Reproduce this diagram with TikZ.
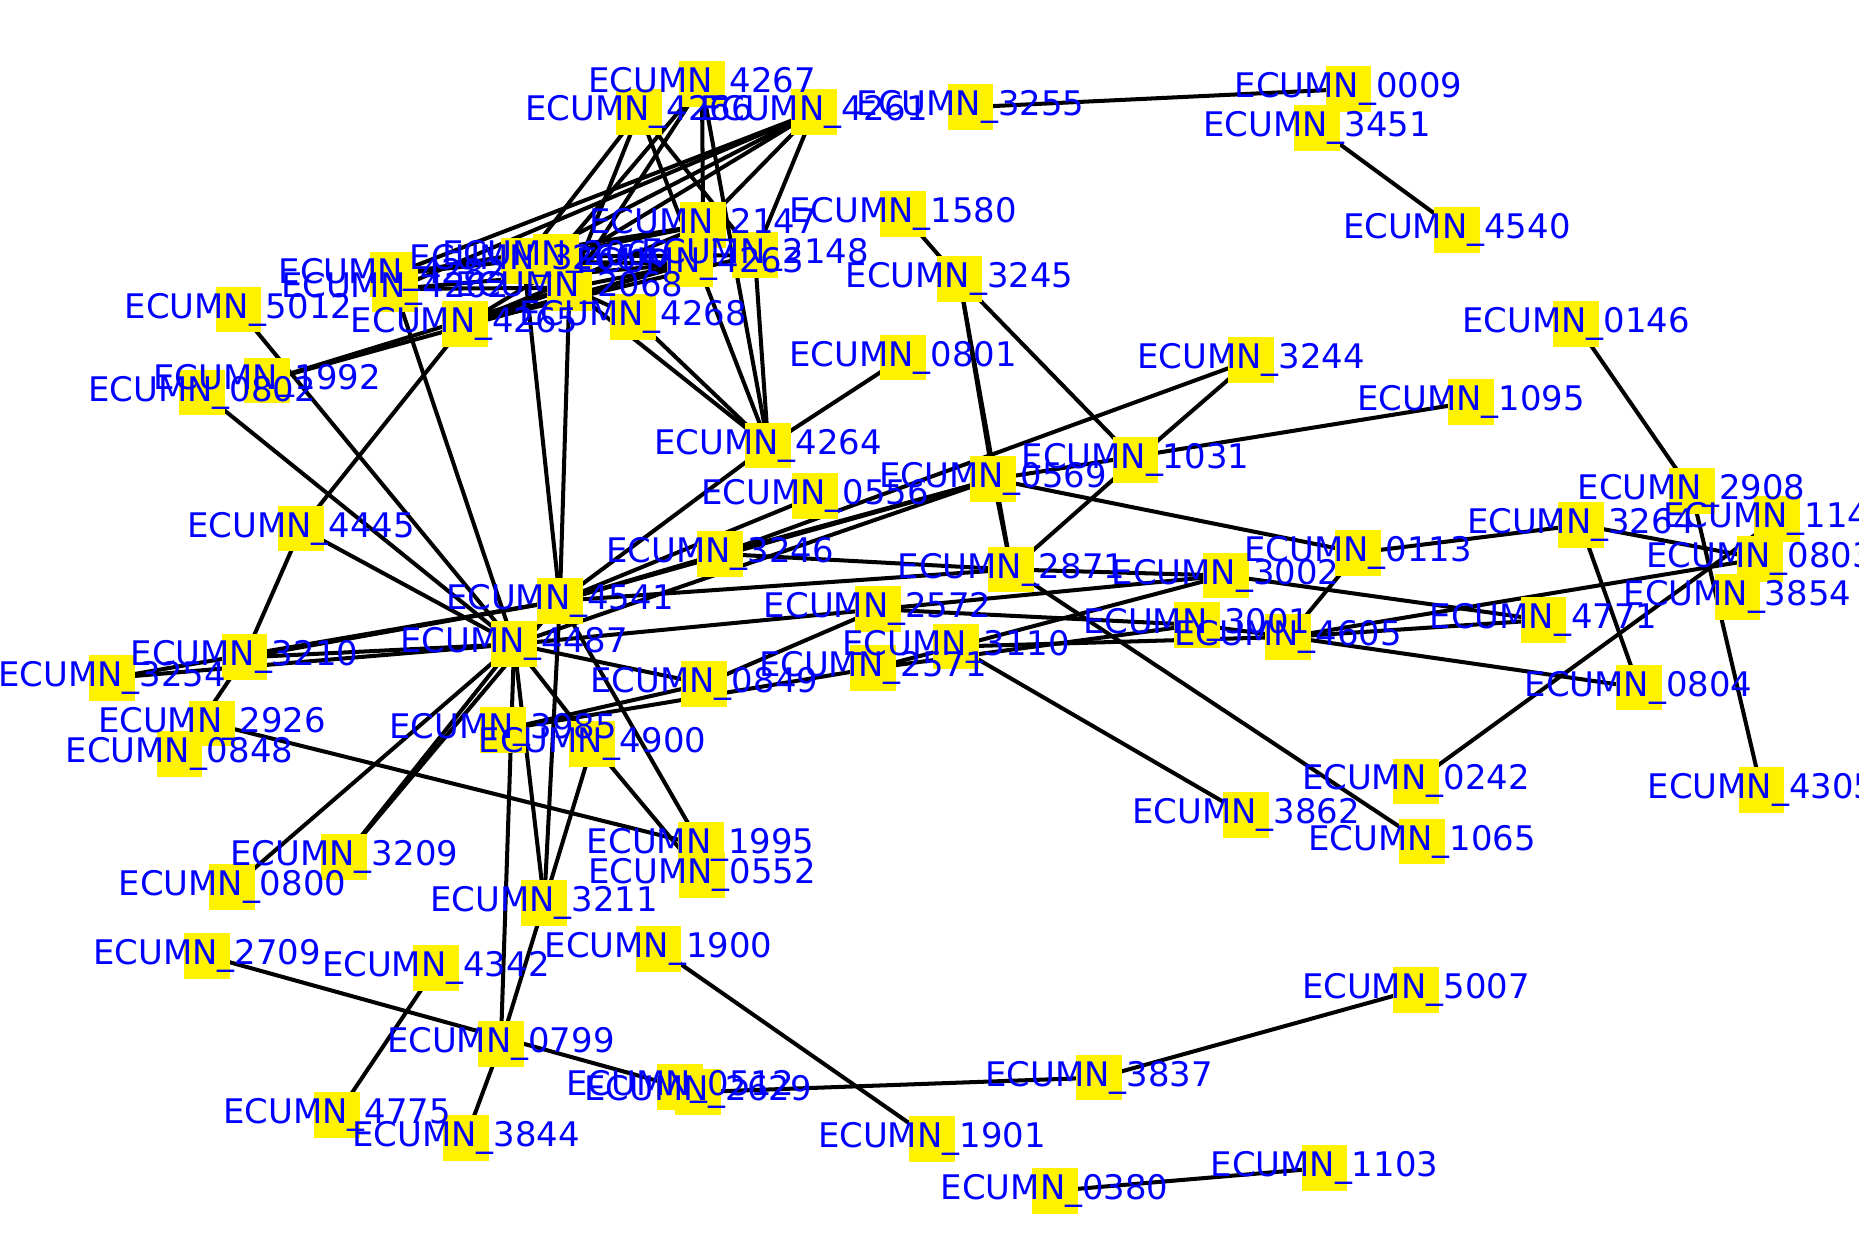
\documentclass[tikz,border=0pt]{standalone}
\usepackage{fontspec}
\setmainfont{DejaVu Sans}
\usetikzlibrary{backgrounds}
\begin{document}
\begin{tikzpicture}[x=0.01cm, y=-0.01cm,
    box/.style={fill=yellow, minimum size=0.38cm, inner sep=0pt},
    lbl/.style={text=blue, inner sep=0pt, font=\fontsize{8}{9}\selectfont},
    edge/.style={line width=0.95pt}]
\useasboundingbox (0,0) rectangle (1544,1046);
% yellow squares
\node[box] (n4267) at (583,70) {};
\node[box] (n4266) at (531,93) {};
\node[box] (n4261) at (676,93) {};
\node[box] (n3255) at (806,89) {};
\node[box] (n0009) at (1120,74) {};
\node[box] (n3451) at (1094,106) {};
\node[box] (n4540) at (1210,191) {};
\node[box] (n1580) at (750,178) {};
\node[box] (n4282) at (326,228) {};
\node[box] (n4262) at (328,240) {};
\node[box] (n3266) at (435,217) {};
\node[box] (n2066) at (462,213) {};
\node[box] (n2068) at (473,239) {};
\node[box] (n4265) at (386,269) {};
\node[box] (n4268) at (526,263) {};
\node[box] (n4263) at (573,219) {};
\node[box] (n2147) at (584,187) {};
\node[box] (n2148) at (627,212) {};
\node[box] (n3245) at (797,232) {};
\node[box] (n0146) at (1309,269) {};
\node[box] (n0801) at (750,297) {};
\node[box] (n3244) at (1039,299) {};
\node[box] (n1095) at (1222,334) {};
\node[box] (n4264) at (638,370) {};
\node[box] (n1031) at (943,382) {};
\node[box] (n0569) at (825,398) {};
\node[box] (n0556) at (677,412) {};
\node[box] (n2908) at (1405,408) {};
\node[box] (n3264) at (1313,436) {};
\node[box] (n1140) at (1476,431) {};
\node[box] (n0803) at (1462,464) {};
\node[box] (n3854) at (1443,496) {};
\node[box] (n0113) at (1128,459) {};
\node[box] (n2871) at (840,473) {};
\node[box] (n3002) at (1018,478) {};
\node[box] (n3246) at (598,460) {};
\node[box] (n4541) at (465,499) {};
\node[box] (n2572) at (729,506) {};
\node[box] (n3001) at (994,519) {};
\node[box] (n4605) at (1070,529) {};
\node[box] (n4771) at (1282,515) {};
\node[box] (n3110) at (794,537) {};
\node[box] (n2571) at (725,555) {};
\node[box] (n0849) at (585,568) {};
\node[box] (n4487) at (427,535) {};
\node[box] (n3210) at (203,546) {};
\node[box] (n3254) at (93,563) {};
\node[box] (n2926) at (176,601) {};
\node[box] (n0848) at (149,626) {};
\node[box] (n3985) at (418,606) {};
\node[box] (n4900) at (492,618) {};
\node[box] (n0804) at (1361,571) {};
\node[box] (n0242) at (1176,649) {};
\node[box] (n4305) at (1463,656) {};
\node[box] (n3862) at (1035,677) {};
\node[box] (n1065) at (1181,699) {};
\node[box] (n1995) at (582,702) {};
\node[box] (n0552) at (583,727) {};
\node[box] (n3209) at (286,712) {};
\node[box] (n0800) at (193,737) {};
\node[box] (n3211) at (452,750) {};
\node[box] (n1900) at (547,788) {};
\node[box] (n2709) at (172,794) {};
\node[box] (n4342) at (362,804) {};
\node[box] (n5007) at (1176,822) {};
\node[box] (n0799) at (416,867) {};
\node[box] (n3837) at (913,895) {};
\node[box] (n0512) at (565,903) {};
\node[box] (n2629) at (580,907) {};
\node[box] (n4775) at (280,926) {};
\node[box] (n3844) at (387,945) {};
\node[box] (n1901) at (774,946) {};
\node[box] (n1103) at (1100,970) {};
\node[box] (n0380) at (876,989) {};
\node[box] (n5012) at (198,257) {};
\node[box] (n1992) at (222,316) {};
\node[box] (n0802) at (168,326) {};
\node[box] (n4445) at (250,439) {};
% edges under the squares
\begin{scope}[on background layer]
% top cluster
\draw[edge] (n4266.center)--(n3266.center);
\draw[edge] (n4266.center)--(n2068.center);
\draw[edge] (n4266.center)--(n2148.center);
\draw[edge] (n4266.center)--(n4264.center);
\draw[edge] (n4267.center)--(n2066.center);
\draw[edge] (n4267.center)--(n2068.center);
\draw[edge] (n4267.center)--(n2147.center);
\draw[edge] (n4267.center)--(n4264.center);
\draw[edge] (n4261.center)--(n4282.center);
\draw[edge] (n4261.center)--(n4262.center);
\draw[edge] (n4261.center)--(n3266.center);
\draw[edge] (n4261.center)--(n4265.center);
\draw[edge] (n4261.center)--(n2147.center);
\draw[edge] (n4261.center)--(n2148.center);
\draw[edge] (n2147.center)--(n4282.center);
\draw[edge] (n2147.center)--(n3266.center);
\draw[edge] (n2147.center)--(n4265.center);
\draw[edge] (n4263.center)--(n4262.center);
\draw[edge] (n4263.center)--(n2068.center);
\draw[edge] (n4263.center)--(n4265.center);
\draw[edge] (n2148.center)--(n2066.center);
\draw[edge] (n2148.center)--(n4265.center);
\draw[edge] (n4282.center)--(n2066.center);
\draw[edge] (n4262.center)--(n2068.center);
\draw[edge] (n4265.center)--(n2068.center);
\draw[edge] (n3266.center)--(n4263.center);
\draw[edge] (n2068.center)--(n4268.center);
\draw[edge] (n4268.center)--(n4264.center);
\draw[edge] (n2068.center)--(n4264.center);
\draw[edge] (n2148.center)--(n4264.center);
\draw[edge] (n1992.center)--(n2068.center);
\draw[edge] (n1992.center)--(n4263.center);
\draw[edge] (n4262.center)--(n4487.center);
\draw[edge] (n4265.center)--(n4445.center);
\draw[edge] (n3266.center)--(n4541.center);
\draw[edge] (n2068.center)--(n4541.center);
\draw[edge] (n5012.center)--(n4487.center);
\draw[edge] (n0802.center)--(n4487.center);
% right part
\draw[edge] (n3255.center)--(n0009.center);
\draw[edge] (n3451.center)--(n4540.center);
\draw[edge] (n1580.center)--(n3245.center);
\draw[edge] (n3245.center)--(n1031.center);
\draw[edge] (n3245.center)--(n0569.center);
\draw[edge] (n3245.center)--(n2871.center);
\draw[edge] (n0801.center)--(n4264.center);
\draw[edge] (n3244.center)--(n1031.center);
\draw[edge] (n3244.center)--(n3246.center);
\draw[edge] (n0569.center)--(n1095.center);
\draw[edge] (n2871.center)--(n1031.center);
\draw[edge] (n0569.center)--(n2871.center);
\draw[edge] (n0569.center)--(n0113.center);
\draw[edge] (n0113.center)--(n3264.center);
\draw[edge] (n0113.center)--(n4605.center);
\draw[edge] (n3264.center)--(n0803.center);
\draw[edge] (n3264.center)--(n0804.center);
\draw[edge] (n0146.center)--(n2908.center);
\draw[edge] (n2908.center)--(n4305.center);
\draw[edge] (n0242.center)--(n1140.center);
\draw[edge] (n4605.center)--(n0804.center);
\draw[edge] (n4605.center)--(n0803.center);
\draw[edge] (n4605.center)--(n4771.center);
\draw[edge] (n3002.center)--(n4771.center);
\draw[edge] (n3001.center)--(n4605.center);
\draw[edge] (n2871.center)--(n1065.center);
\draw[edge] (n3110.center)--(n3862.center);
\draw[edge] (n2871.center)--(n3002.center);
\draw[edge] (n2572.center)--(n3002.center);
\draw[edge] (n3110.center)--(n3002.center);
\draw[edge] (n2572.center)--(n3001.center);
\draw[edge] (n2571.center)--(n3001.center);
\draw[edge] (n3110.center)--(n4605.center);
\draw[edge] (n2571.center)--(n3110.center);
% middle part
\draw[edge] (n4541.center)--(n4264.center);
\draw[edge] (n4541.center)--(n3246.center);
\draw[edge] (n4541.center)--(n0556.center);
\draw[edge] (n4541.center)--(n0569.center);
\draw[edge] (n4487.center)--(n0569.center);
\draw[edge] (n3246.center)--(n0569.center);
\draw[edge] (n3246.center)--(n2871.center);
\draw[edge] (n4541.center)--(n2871.center);
\draw[edge] (n4487.center)--(n2572.center);
\draw[edge] (n0849.center)--(n2572.center);
\draw[edge] (n4487.center)--(n0849.center);
\draw[edge] (n3985.center)--(n0849.center);
\draw[edge] (n3985.center)--(n2571.center);
% left and bottom part
\draw[edge] (n3254.center)--(n4487.center);
\draw[edge] (n3254.center)--(n4541.center);
\draw[edge] (n3210.center)--(n4487.center);
\draw[edge] (n3210.center)--(n4541.center);
\draw[edge] (n4445.center)--(n3210.center);
\draw[edge] (n3210.center)--(n0848.center);
\draw[edge] (n4445.center)--(n4487.center);
\draw[edge] (n2926.center)--(n1995.center);
\draw[edge] (n4487.center)--(n0800.center);
\draw[edge] (n4487.center)--(n3209.center);
\draw[edge] (n4541.center)--(n3209.center);
\draw[edge] (n4487.center)--(n0799.center);
\draw[edge] (n4487.center)--(n3211.center);
\draw[edge] (n4541.center)--(n3211.center);
\draw[edge] (n4487.center)--(n4900.center);
\draw[edge] (n4541.center)--(n1995.center);
\draw[edge] (n4900.center)--(n0552.center);
\draw[edge] (n4900.center)--(n3211.center);
\draw[edge] (n3211.center)--(n0799.center);
\draw[edge] (n0799.center)--(n3844.center);
\draw[edge] (n4342.center)--(n4775.center);
\draw[edge] (n2709.center)--(n0512.center);
\draw[edge] (n2629.center)--(n3837.center);
\draw[edge] (n3837.center)--(n5007.center);
\draw[edge] (n1900.center)--(n1901.center);
\draw[edge] (n0380.center)--(n1103.center);
\end{scope}
% labels on top
\node[lbl] at (n4267) {ECUMN\_4267};
\node[lbl] at (n4266) {ECUMN\_4266};
\node[lbl] at (n4261) {ECUMN\_4261};
\node[lbl] at (n3255) {ECUMN\_3255};
\node[lbl] at (n0009) {ECUMN\_0009};
\node[lbl] at (n3451) {ECUMN\_3451};
\node[lbl] at (n4540) {ECUMN\_4540};
\node[lbl] at (n1580) {ECUMN\_1580};
\node[lbl] at (n4282) {ECUMN\_4282};
\node[lbl] at (n4262) {ECUMN\_4262};
\node[lbl] at (n3266) {ECUMN\_3266};
\node[lbl] at (n2066) {ECUMN\_2066};
\node[lbl] at (n2068) {ECUMN\_2068};
\node[lbl] at (n4265) {ECUMN\_4265};
\node[lbl] at (n4268) {ECUMN\_4268};
\node[lbl] at (n4263) {ECUMN\_4263};
\node[lbl] at (n2147) {ECUMN\_2147};
\node[lbl] at (n2148) {ECUMN\_2148};
\node[lbl] at (n3245) {ECUMN\_3245};
\node[lbl] at (n0146) {ECUMN\_0146};
\node[lbl] at (n0801) {ECUMN\_0801};
\node[lbl] at (n3244) {ECUMN\_3244};
\node[lbl] at (n1095) {ECUMN\_1095};
\node[lbl] at (n4264) {ECUMN\_4264};
\node[lbl] at (n1031) {ECUMN\_1031};
\node[lbl] at (n0569) {ECUMN\_0569};
\node[lbl] at (n0556) {ECUMN\_0556};
\node[lbl] at (n2908) {ECUMN\_2908};
\node[lbl] at (n3264) {ECUMN\_3264};
\node[lbl] at (n1140) {ECUMN\_1140};
\node[lbl] at (n0803) {ECUMN\_0803};
\node[lbl] at (n3854) {ECUMN\_3854};
\node[lbl] at (n0113) {ECUMN\_0113};
\node[lbl] at (n2871) {ECUMN\_2871};
\node[lbl] at (n3002) {ECUMN\_3002};
\node[lbl] at (n3246) {ECUMN\_3246};
\node[lbl] at (n4541) {ECUMN\_4541};
\node[lbl] at (n2572) {ECUMN\_2572};
\node[lbl] at (n3001) {ECUMN\_3001};
\node[lbl] at (n4605) {ECUMN\_4605};
\node[lbl] at (n4771) {ECUMN\_4771};
\node[lbl] at (n3110) {ECUMN\_3110};
\node[lbl] at (n2571) {ECUMN\_2571};
\node[lbl] at (n0849) {ECUMN\_0849};
\node[lbl] at (n4487) {ECUMN\_4487};
\node[lbl] at (n3210) {ECUMN\_3210};
\node[lbl] at (n3254) {ECUMN\_3254};
\node[lbl] at (n2926) {ECUMN\_2926};
\node[lbl] at (n0848) {ECUMN\_0848};
\node[lbl] at (n3985) {ECUMN\_3985};
\node[lbl] at (n4900) {ECUMN\_4900};
\node[lbl] at (n0804) {ECUMN\_0804};
\node[lbl] at (n0242) {ECUMN\_0242};
\node[lbl] at (n4305) {ECUMN\_4305};
\node[lbl] at (n3862) {ECUMN\_3862};
\node[lbl] at (n1065) {ECUMN\_1065};
\node[lbl] at (n1995) {ECUMN\_1995};
\node[lbl] at (n0552) {ECUMN\_0552};
\node[lbl] at (n3209) {ECUMN\_3209};
\node[lbl] at (n0800) {ECUMN\_0800};
\node[lbl] at (n3211) {ECUMN\_3211};
\node[lbl] at (n1900) {ECUMN\_1900};
\node[lbl] at (n2709) {ECUMN\_2709};
\node[lbl] at (n4342) {ECUMN\_4342};
\node[lbl] at (n5007) {ECUMN\_5007};
\node[lbl] at (n0799) {ECUMN\_0799};
\node[lbl] at (n3837) {ECUMN\_3837};
\node[lbl] at (n0512) {ECUMN\_0512};
\node[lbl] at (n2629) {ECUMN\_2629};
\node[lbl] at (n4775) {ECUMN\_4775};
\node[lbl] at (n3844) {ECUMN\_3844};
\node[lbl] at (n1901) {ECUMN\_1901};
\node[lbl] at (n1103) {ECUMN\_1103};
\node[lbl] at (n0380) {ECUMN\_0380};
\node[lbl] at (n5012) {ECUMN\_5012};
\node[lbl] at (n1992) {ECUMN\_1992};
\node[lbl] at (n0802) {ECUMN\_0802};
\node[lbl] at (n4445) {ECUMN\_4445};
\end{tikzpicture}
\end{document}
